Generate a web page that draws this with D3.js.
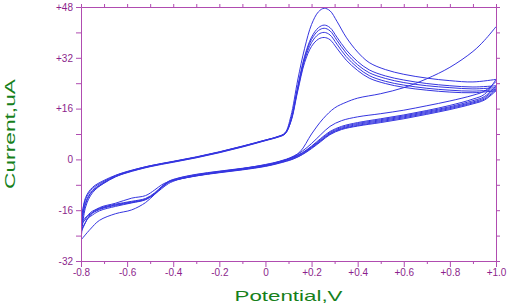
<!DOCTYPE html>
<html lang="en">
<head>
<meta charset="UTF-8">
<title>Cyclic voltammogram</title>
<style>
  body { margin: 0; background: #fff; }
  svg { display: block; font-family: Arial, "Liberation Sans", sans-serif; }
  .axis path, .axis line { stroke: #b04cb0; }
  .axis text { fill: #8c1f8c; font-size: 10px; }
  .title { fill: #16801a; font-size: 15px; }
  .cv { fill: none; stroke: #3535e0; stroke-width: 1; }
</style>
</head>
<body>
<svg width="508" height="304"></svg>
<script src="https://d3js.org/d3.v7.min.js"></script>
<script>
  // tick values
  var xTicks = [-0.8, -0.6, -0.4, -0.2, 0, 0.2, 0.4, 0.6, 0.8, 1.0]
  var xMinor = [-0.7, -0.5, -0.3, -0.1, 0.1, 0.3, 0.5, 0.7, 0.9]
  var yTicks = [-32, -16, 0, 16, 32, 48]
  var yMinor = [-24, -8, 8, 24, 40]

  // potentials (V) of the sampled points
  var fwdPotential = [-0.80, -0.78, -0.75, -0.70, -0.65, -0.60, -0.50, -0.40, -0.30, -0.20, -0.10, 0.00, 0.05, 0.085, 0.11, 0.14, 0.17, 0.20, 0.23, 0.255, 0.28, 0.31, 0.35, 0.40, 0.45, 0.52, 0.60, 0.70, 0.80, 0.90, 1.00]
  var revPotential = [1.00, 0.95, 0.90, 0.80, 0.70, 0.60, 0.50, 0.40, 0.33, 0.28, 0.24, 0.20, 0.16, 0.12, 0.06, 0.00, -0.10, -0.20, -0.30, -0.38, -0.42, -0.45, -0.48, -0.52, -0.58, -0.65, -0.72, -0.76, -0.80]

  // first scan, up to +1.0 V without a peak, then back
  var firstScanPotential = [-0.05, 0.05, 0.10, 0.15, 0.20, 0.25, 0.30, 0.35, 0.40, 0.50, 0.60, 0.70, 0.80, 0.90, 0.95, 1.00]
  var firstScanCurrent = [-2.6, -1.2, 0.2, 2.4, 8.0, 12.8, 16.2, 18.0, 19.3, 20.7, 22.6, 25.4, 29.0, 34.0, 37.5, 41.8]
  var firstRevCurrent = [24.5, 21.5, 20.2, 18.4, 16.9, 15.5, 14.4, 13.4, 12.2, 10.4, 7.8, 5.0, 2.6, 0.9, -0.6, -1.6, -2.9, -4.0, -5.2, -6.4, -7.6, -9.2, -11.0, -13.6, -15.9, -17.1, -19.2, -22.0, -25.4]

  // currents (uA) for the following cycles
  var cycle1Fwd = [-25.4, -15, -10.5, -7.4, -5.4, -4.1, -2.2, -0.7, 0.7, 2.3, 4.1, 6.1, 7.1, 8.4, 13.5, 25, 35, 42.5, 46.5, 47.6, 46.8, 43.5, 38.5, 33.8, 30.5, 28.3, 26.8, 25.6, 24.8, 24.4, 25.2]
  var cycle1Rev = [25.2, 20.5, 19.0, 17.0, 15.4, 14.0, 12.8, 11.6, 10.4, 8.8, 6.6, 4.2, 2.1, 0.7, -0.7, -1.7, -2.8, -3.7, -4.7, -5.9, -6.9, -8.5, -10.5, -12.3, -13.2, -14.1, -15.4, -16.8, -21]
  var cycle2Fwd = [-21, -13.5, -9.8, -7.2, -5.3, -4.0, -2.1, -0.8, 0.6, 2.2, 4.0, 6.0, 7.0, 8.2, 12.5, 23, 32.5, 38.5, 41.5, 42.3, 41.5, 38.5, 34.5, 30.8, 28.2, 26.3, 25.0, 23.9, 23.2, 22.8, 23.2]
  var cycle2Rev = [23.2, 19.8, 18.5, 16.6, 15.1, 13.7, 12.5, 11.3, 10.1, 8.5, 6.3, 4.0, 2.0, 0.6, -0.8, -1.8, -2.9, -3.8, -4.8, -6.0, -7.0, -8.7, -10.7, -12.5, -13.4, -14.3, -15.6, -17.2, -19.5]
  var cycle3Fwd = [-19.5, -12.5, -9.2, -6.9, -5.1, -3.9, -2.0, -0.7, 0.7, 2.3, 4.1, 6.0, 7.0, 8.1, 12.2, 22.5, 32, 37.8, 40.6, 41.3, 40.5, 37.5, 33.5, 29.8, 27.3, 25.5, 24.2, 23.2, 22.6, 22.2, 22.6]
  var cycle3Rev = [22.6, 19.4, 18.1, 16.3, 14.8, 13.4, 12.2, 11.0, 9.8, 8.2, 6.0, 3.8, 1.8, 0.4, -1.0, -2.0, -3.1, -4.0, -5.0, -6.2, -7.2, -8.9, -10.9, -12.6, -13.6, -14.5, -15.8, -17.6, -22.5]
  var cycle4Fwd = [-22.5, -14, -10, -7.5, -5.5, -4.2, -2.3, -0.9, 0.5, 2.1, 3.9, 5.9, 6.9, 8.0, 12, 22, 31.3, 36.8, 39.4, 40.0, 39.2, 36.3, 32.4, 28.9, 26.4, 24.6, 23.4, 22.4, 21.8, 21.5, 22.0]
  var cycle4Rev = [22.0, 19.0, 17.8, 16.0, 14.5, 13.1, 11.9, 10.7, 9.6, 8.0, 5.8, 3.6, 1.6, 0.2, -1.1, -2.1, -3.2, -4.1, -5.1, -6.3, -7.2, -8.8, -10.8, -12.7, -13.7, -14.8, -16.2, -18, -20]
  var cycle5Fwd = [-20, -12, -8.8, -6.6, -5.0, -3.8, -2.0, -0.6, 0.8, 2.4, 4.2, 6.1, 7.1, 8.2, 11.8, 21.5, 30.5, 35.6, 37.9, 38.4, 37.7, 35, 31.3, 28, 25.6, 23.9, 22.7, 21.8, 21.2, 21.0, 21.6]
  var cycle5Rev = [21.6, 18.7, 17.5, 15.7, 14.2, 12.8, 11.6, 10.5, 9.4, 7.8, 5.6, 3.4, 1.5, 0.1, -1.2, -2.2, -3.3, -4.2, -5.2, -6.3, -7.0, -8.0, -9.6, -11.4, -12.2, -13.8, -15.2, -17.4, -23]

  var segments = [
    [firstScanPotential, firstScanCurrent],
    [revPotential, firstRevCurrent],
    [fwdPotential, cycle1Fwd], [revPotential, cycle1Rev],
    [fwdPotential, cycle2Fwd], [revPotential, cycle2Rev],
    [fwdPotential, cycle3Fwd], [revPotential, cycle3Rev],
    [fwdPotential, cycle4Fwd], [revPotential, cycle4Rev],
    [fwdPotential, cycle5Fwd], [revPotential, cycle5Rev]
  ]

  var svg = d3.select('svg')
  var margin = { top: 7, right: 12, bottom: 43, left: 81 }
  var width = svg.attr('width') - margin.left - margin.right
  var height = svg.attr('height') - margin.top - margin.bottom

  var x = d3.scaleLinear().domain([-0.8, 1.0]).range([0, width])
  var y = d3.scaleLinear().domain([-32, 48]).range([height, 0])

  var g = svg.append('g')
    .attr('transform', 'translate(' + margin.left + ',' + margin.top + ')')

  g.append('clipPath').attr('id', 'plot')
    .append('rect').attr('width', width).attr('height', height)

  var line = d3.line()
    .x(function(d) { return x(d[0]) })
    .y(function(d) { return y(d[1]) })
    .curve(d3.curveCatmullRom.alpha(0.5))

  g.append('g').attr('clip-path', 'url(#plot)')
    .selectAll('path')
    .data(segments)
    .enter()
    .append('path')
    .attr('class', 'cv')
    .attr('d', function(s) { return line(d3.zip(s[0], s[1])) })

  var fmtX = function(d) { return d === 0 ? '0' : (d > 0 ? '+' : '') + d.toFixed(1) }
  var fmtY = function(d) { return d === 0 ? '0' : (d > 0 ? '+' : '') + d }

  // bottom
  g.append('g').attr('class', 'axis')
    .attr('transform', 'translate(0,' + height + ')')
    .call(d3.axisBottom(x).tickValues(xTicks).tickFormat(fmtX).tickSize(6).tickPadding(2).tickSizeOuter(0))
  g.append('g').attr('class', 'axis')
    .attr('transform', 'translate(0,' + height + ')')
    .call(d3.axisBottom(x).tickValues(xMinor).tickFormat('').tickSize(3).tickSizeOuter(0))
  // left
  g.append('g').attr('class', 'axis')
    .call(d3.axisLeft(y).tickValues(yTicks).tickFormat(fmtY).tickSize(5).tickPadding(3).tickSizeOuter(0))
  g.append('g').attr('class', 'axis')
    .call(d3.axisLeft(y).tickValues(yMinor).tickFormat('').tickSize(5).tickSizeOuter(0))
  // top and right, mirrored ticks
  g.append('g').attr('class', 'axis')
    .call(d3.axisTop(x).tickValues(xTicks.concat(xMinor)).tickFormat('').tickSize(3).tickSizeOuter(0))
  g.append('g').attr('class', 'axis')
    .attr('transform', 'translate(' + width + ',0)')
    .call(d3.axisRight(y).tickValues(yTicks.concat(yMinor)).tickFormat('').tickSize(4).tickSizeOuter(0))

  svg.append('text')
    .attr('class', 'title')
    .attr('text-anchor', 'middle')
    .attr('transform', 'translate(15,' + (margin.top + height / 2) + ') rotate(-90)')
    .attr('textLength', 110)
    .attr('lengthAdjust', 'spacingAndGlyphs')
    .text('Current,uA')

  svg.append('text')
    .attr('class', 'title')
    .attr('text-anchor', 'middle')
    .attr('x', margin.left + width / 2)
    .attr('y', 301)
    .attr('textLength', 108)
    .attr('lengthAdjust', 'spacingAndGlyphs')
    .text('Potential,V')
</script>
</body>
</html>
